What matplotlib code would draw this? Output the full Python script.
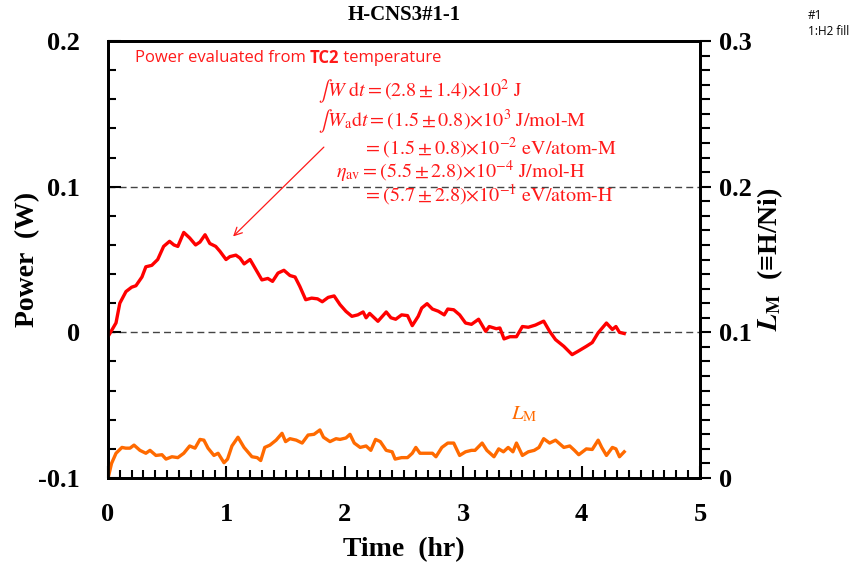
import numpy as np
import matplotlib
matplotlib.use('Agg')
from matplotlib import pyplot as plt
from matplotlib.ticker import MultipleLocator, FixedLocator

plt.rcParams['mathtext.fontset'] = 'stix'

# power from TC2 temperature (W), left axis
t_power = [0.0, 0.068, 0.10, 0.152, 0.20, 0.236, 0.287, 0.32, 0.37, 0.42, 0.47, 0.52, 0.557, 0.59,
           0.64, 0.69, 0.74, 0.777, 0.82, 0.86, 0.91, 0.946, 0.997, 1.03, 1.08, 1.115, 1.15, 1.2,
           1.25, 1.30, 1.35, 1.39, 1.436, 1.486, 1.537, 1.58, 1.62, 1.67, 1.72, 1.77, 1.81, 1.86,
           1.91, 1.96, 2.01, 2.06, 2.11, 2.155, 2.18, 2.21, 2.28, 2.35, 2.39, 2.43, 2.48, 2.53,
           2.57, 2.62, 2.65, 2.695, 2.74, 2.79, 2.84, 2.87, 2.92, 2.97, 3.02, 3.07, 3.13, 3.19,
           3.22, 3.28, 3.31, 3.345, 3.395, 3.45, 3.50, 3.55, 3.61, 3.68, 3.73, 3.78, 3.85, 3.92,
           3.97, 4.04, 4.09, 4.14, 4.21, 4.26, 4.29, 4.32, 4.36]
power = [-0.003, 0.0065, 0.020, 0.028, 0.031, 0.032, 0.038, 0.045, 0.046, 0.050, 0.059, 0.0625,
         0.060, 0.059, 0.0686, 0.0648, 0.060, 0.062, 0.067, 0.061, 0.059, 0.0556, 0.050, 0.052,
         0.053, 0.051, 0.047, 0.050, 0.043, 0.036, 0.037, 0.035, 0.0407, 0.0426, 0.039, 0.038,
         0.0316, 0.0224, 0.0235, 0.023, 0.021, 0.024, 0.025, 0.019, 0.0144, 0.011, 0.012, 0.014,
         0.010, 0.013, 0.0076, 0.014, 0.010, 0.009, 0.012, 0.0115, 0.0046, 0.011, 0.0167, 0.0197,
         0.016, 0.0145, 0.012, 0.016, 0.0155, 0.012, 0.0064, 0.0055, 0.009, 0.0007, 0.004, 0.0025,
         0.003, -0.0045, -0.003, -0.003, 0.004, 0.0035, 0.005, 0.0077, 0.0007, -0.005, -0.0096,
         -0.0153, -0.013, -0.0096, -0.007, -0.0003, 0.0064, 0.002, 0.004, 0.0, -0.0008]

# loading ratio L_M (H/Ni), right axis
t_lm = [0.007, 0.03, 0.068, 0.118, 0.15, 0.186, 0.22, 0.27, 0.32, 0.355, 0.405, 0.456, 0.49, 0.54,
        0.59, 0.64, 0.69, 0.735, 0.777, 0.81, 0.845, 0.895, 0.93, 0.98, 1.01, 1.047, 1.098, 1.149,
        1.216, 1.26, 1.29, 1.324, 1.368, 1.42, 1.47, 1.50, 1.537, 1.59, 1.64, 1.69, 1.74, 1.79,
        1.82, 1.875, 1.926, 1.96, 2.01, 2.044, 2.08, 2.13, 2.18, 2.22, 2.26, 2.30, 2.35, 2.40,
        2.425, 2.48, 2.53, 2.57, 2.60, 2.635, 2.686, 2.74, 2.77, 2.82, 2.87, 2.92, 2.97, 3.02,
        3.07, 3.10, 3.16, 3.20, 3.26, 3.30, 3.34, 3.38, 3.42, 3.45, 3.50, 3.55, 3.60, 3.64, 3.68,
        3.73, 3.78, 3.85, 3.90, 3.94, 3.976, 4.04, 4.09, 4.14, 4.17, 4.21, 4.26, 4.29, 4.32, 4.36]
lm = [0.002, 0.010, 0.017, 0.021, 0.0205, 0.0205, 0.0226, 0.019, 0.017, 0.019, 0.0155, 0.016,
      0.013, 0.0146, 0.014, 0.017, 0.022, 0.0205, 0.0265, 0.026, 0.0205, 0.0155, 0.017, 0.0105,
      0.013, 0.022, 0.028, 0.021, 0.0146, 0.014, 0.012, 0.021, 0.0226, 0.026, 0.0307, 0.025,
      0.027, 0.026, 0.024, 0.0295, 0.030, 0.033, 0.028, 0.025, 0.027, 0.0265, 0.0275, 0.030,
      0.024, 0.021, 0.022, 0.019, 0.0265, 0.025, 0.019, 0.018, 0.013, 0.014, 0.014, 0.017, 0.021,
      0.017, 0.017, 0.017, 0.0146, 0.021, 0.024, 0.024, 0.0155, 0.018, 0.019, 0.019, 0.024, 0.019,
      0.0146, 0.020, 0.018, 0.021, 0.018, 0.024, 0.0155, 0.018, 0.019, 0.021, 0.027, 0.024, 0.026,
      0.021, 0.022, 0.019, 0.016, 0.020, 0.0196, 0.026, 0.021, 0.0155, 0.021, 0.020, 0.0146, 0.018]

serif = ['Liberation Serif', 'DejaVu Serif']
sans = ['Open Sans', 'DejaVu Sans']

fig = plt.figure(figsize=(8.61, 5.72), dpi=100)
ax = fig.add_axes([0.1254, 0.1643, 0.6876, 0.764])
ax2 = ax.twinx()

ax.axhline(0.1, color='#444444', lw=1, ls=(0, (5, 3)), zorder=1)
ax.axhline(0.0, color='#444444', lw=1, ls=(0, (5, 3)), zorder=1)
ax.plot(t_power, power, color='#ff0000', lw=2.4, zorder=3)
ax2.plot(t_lm, lm, color='#ff6a00', lw=2.4)

ax.set_xlim(0, 5)
ax.set_ylim(-0.1, 0.2)
ax2.set_ylim(0, 0.3)

ax.xaxis.set_major_locator(FixedLocator([0, 1, 2, 3, 4, 5]))
ax.xaxis.set_minor_locator(MultipleLocator(0.1))
ax.yaxis.set_major_locator(FixedLocator([-0.1, 0, 0.1, 0.2]))
ax.yaxis.set_minor_locator(MultipleLocator(0.02))
ax2.yaxis.set_major_locator(FixedLocator([0, 0.1, 0.2, 0.3]))
ax2.yaxis.set_minor_locator(MultipleLocator(0.01))

ax.set_xticklabels(['0', '1', '2', '3', '4', '5'])
ax.set_yticklabels(['-0.1', '0', '0.1', '0.2'])
ax2.set_yticklabels(['0', '0.1', '0.2', '0.3'])

ax.tick_params(which='both', direction='in', top=False, right=False, width=1.5)
ax.tick_params(which='major', length=9)
ax.tick_params(which='minor', length=6)
ax.tick_params(axis='x', pad=18)
ax.tick_params(axis='y', pad=20)
ax2.tick_params(which='both', direction='out', width=1.5, pad=6)
ax2.tick_params(which='major', length=8)
ax2.tick_params(which='minor', length=7)
for lab in ax.get_xticklabels() + ax.get_yticklabels() + ax2.get_yticklabels():
    lab.set_family(serif)
    lab.set_fontweight('bold')
    lab.set_fontsize(19)

for a in (ax, ax2):
    for s in a.spines.values():
        s.set_linewidth(2)

ax.set_title('H-CNS3#1-1', family=serif, fontweight='bold', fontsize=15, pad=15)
ax.set_xlabel('Time  (hr)', family=serif, fontweight='bold', fontsize=20, labelpad=8)
ax.set_ylabel('Power  (W)', family=serif, fontweight='bold', fontsize=20, labelpad=-1)
ax2.set_ylabel(r'$\boldsymbol{L}_{\mathbf{M}}$  (≡H/Ni)', family=serif, fontweight='bold',
               fontsize=20, labelpad=2)

# annotation text
red = '#ff1a1a'
t1 = ax.text(0.045, 0.962, 'Power evaluated from ', transform=ax.transAxes, color=red,
             fontsize=12, family=sans, va='center')
t2 = ax.annotate('TC2', xy=(1, 0.5), xycoords=t1, color=red, fontweight='bold',
                 fontsize=12, family=sans, va='center', ha='left')
ax.annotate(' temperature', xy=(1, 0.5), xycoords=t2, color=red,
            fontsize=12, family=sans, va='center', ha='left')

eq_kw = dict(transform=ax.transAxes, color=red, fontsize=14.5, va='center')
ax.text(0.355, 0.885, r'$\int W\ \mathrm{d}t = (2.8 \pm 1.4){\times}10^2\ \mathrm{J}$', **eq_kw)
ax.text(0.355, 0.817, r'$\int W_\mathrm{a}\mathrm{d}t = (1.5 \pm 0.8){\times}10^3\ \mathrm{J/mol\text{-}M}$', **eq_kw)
ax.text(0.430, 0.755, r'$= (1.5 \pm 0.8){\times}10^{-2}\ \mathrm{eV/atom\text{-}M}$', **eq_kw)
ax.text(0.385, 0.700, r'$\eta_\mathrm{av} = (5.5 \pm 2.8){\times}10^{-4}\ \mathrm{J/mol\text{-}H}$', **eq_kw)
ax.text(0.430, 0.648, r'$= (5.7 \pm 2.8){\times}10^{-1}\ \mathrm{eV/atom\text{-}H}$', **eq_kw)

ax.annotate('', xy=(1.04, 0.0645), xytext=(1.84, 0.1285),
            arrowprops=dict(arrowstyle='->', color=red, lw=0.9, mutation_scale=14))

ax2.text(3.4, 0.044, r'$L_\mathrm{M}$', color='#ff6a00', fontsize=15,
         family=sans, va='center')

fig.text(0.9385, 0.985, '#1\n1:H2 fill', fontsize=8.5, va='top', ha='left',
         family=sans, linespacing=1.3)

fig.savefig('out.png', dpi=100)
